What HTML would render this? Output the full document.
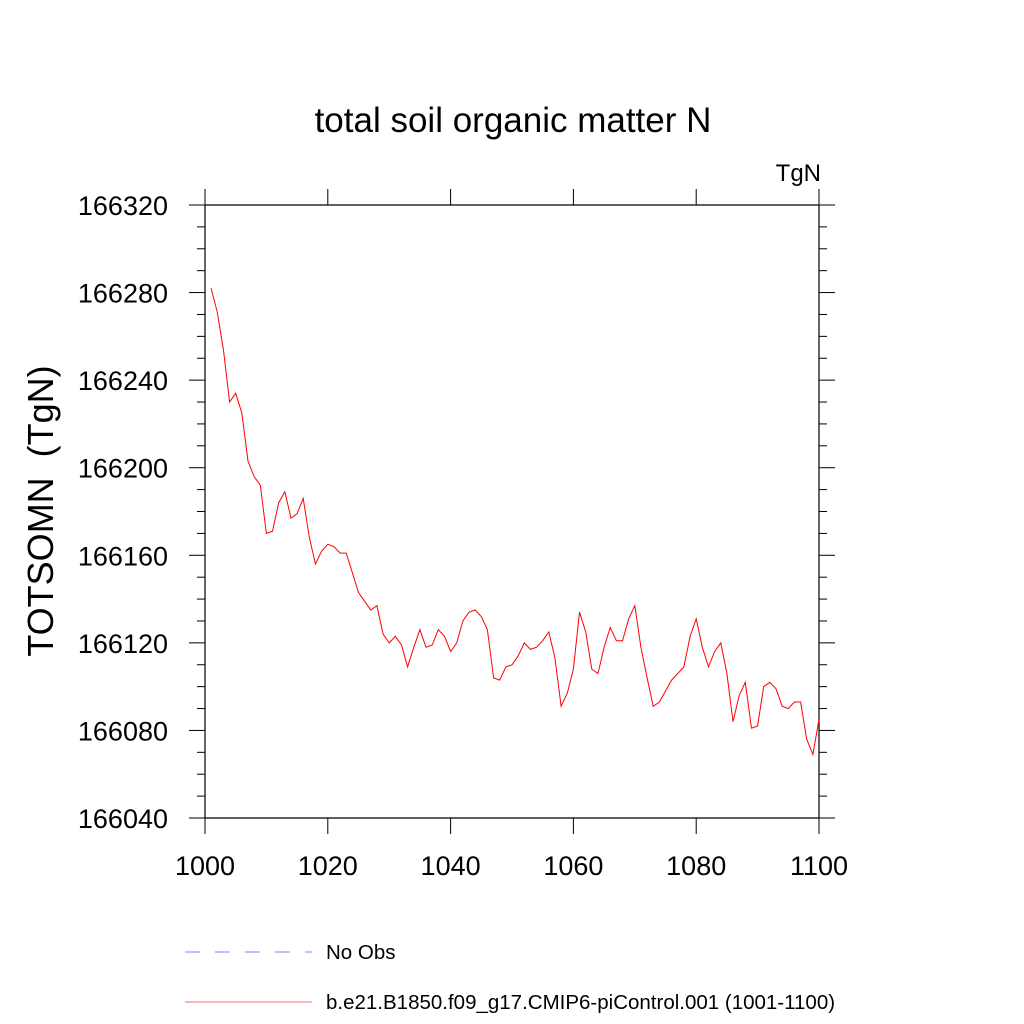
<!DOCTYPE html>
<html><head><meta charset="utf-8"><style>
html,body{margin:0;padding:0;background:#fff;}
svg{display:block;font-family:"Liberation Sans",sans-serif;}
</style></head><body>
<svg id="chart" width="1024" height="1024" viewBox="0 0 1024 1024" xmlns="http://www.w3.org/2000/svg">
<rect width="1024" height="1024" fill="#fff"/>
<text x="513" y="132" font-size="35" text-anchor="middle">total soil organic matter N</text>
<text x="821" y="181" font-size="24" text-anchor="end">TgN</text>
<text transform="translate(53,511) rotate(-90)" font-size="36" text-anchor="middle">TOTSOMN&#160;&#160;(TgN)</text>
<g id="axes"></g>
<g id="series"></g>
<g>
<line x1="185" y1="952" x2="312" y2="952" stroke="#8080ff" stroke-width="1" stroke-dasharray="15,15"/>
<text x="326" y="959" font-size="20.5">No Obs</text>
<line x1="185" y1="1002" x2="312" y2="1002" stroke="#f07070" stroke-width="1"/>
<text x="326" y="1009" font-size="20.5">b.e21.B1850.f09_g17.CMIP6-piControl.001 (1001-1100)</text>
</g>
</svg>
<script>
const years = [];
for (let y = 1001; y <= 1100; y++) years.push(y);
const values = [166282,166271,166254,166230,166234,166225,166203,166196,166192,166170,
166171,166184,166189,166177,166179,166186,166168,166156,166162,166165,
166164,166161,166161,166152,166143,166139,166135,166137,166124,166120,
166123,166119,166109,166118,166126,166118,166119,166126,166123,166116,
166120,166130,166134,166135,166132,166126,166104,166103,166109,166110,
166114,166120,166117,166118,166121,166125,166113,166091,166097,166108,
166134,166125,166108,166106,166118,166127,166121,166121,166131,166137,
166118,166104,166091,166093,166098,166103,166106,166109,166123,166131,
166118,166109,166116,166120,166106,166084,166096,166102,166081,166082,
166100,166102,166099,166091,166090,166093,166093,166076,166069,166085];
const xTicks = [1000,1020,1040,1060,1080,1100];
const yTicks = [166040,166080,166120,166160,166200,166240,166280,166320];

const L=205,R=819,T=205,B=818;
const xMin=1000,xMax=1100,yMin=166040,yMax=166320;
const sx=v=>L+(v-xMin)/(xMax-xMin)*(R-L);
const sy=v=>B-(v-yMin)/(yMax-yMin)*(B-T);
const NS="http://www.w3.org/2000/svg";
const axes=document.getElementById('axes');
function ln(x1,y1,x2,y2,w,name){
  const l=document.createElementNS(NS,'line');
  l.setAttribute('x1',x1);l.setAttribute('y1',y1);l.setAttribute('x2',x2);l.setAttribute('y2',y2);
  l.setAttribute('stroke','#000');l.setAttribute('stroke-width',w);
  
  
  axes.appendChild(l);return l;
}
ln(L,T,R,T,1.2,'plot-frame-top');ln(L,B,R,B,1.2,'plot-frame-bottom');
ln(L,T,L,B,1.2,'plot-frame-left');ln(R,T,R,B,1.2,'plot-frame-right');
for(let v=yMin; v<=yMax; v+=10){
  const major=(v-yMin)%40===0, y=sy(v), len=major?16:8;
  ln(L-len,y,L,y,1,major?'y-major-tick':'y-minor-tick');
  ln(R,y,R+len,y,1,major?'y-major-tick-right':'y-minor-tick-right');
}
yTicks.forEach(v=>{
  const t=document.createElementNS(NS,'text');
  t.setAttribute('x',168);t.setAttribute('y',sy(v)+10);t.setAttribute('font-size','27');t.setAttribute('text-anchor','end');
  t.textContent=v;
  
  
  axes.appendChild(t);
});
xTicks.forEach(v=>{
  const x=sx(v);
  ln(x,B,x,B+16,1,'x-major-tick');ln(x,T-16,x,T,1,'x-major-tick-top');
  const t=document.createElementNS(NS,'text');
  t.setAttribute('x',x);t.setAttribute('y',875);t.setAttribute('font-size','27');t.setAttribute('text-anchor','middle');
  t.textContent=v;
  
  
  axes.appendChild(t);
});
const p=document.createElementNS(NS,'polyline');
p.setAttribute('points',years.map((y,i)=>sx(y).toFixed(1)+','+sy(values[i]).toFixed(1)).join(' '));
p.setAttribute('fill','none');p.setAttribute('stroke','#ff0000');p.setAttribute('stroke-width','1');


document.getElementById('series').appendChild(p);
</script>
</body></html>
